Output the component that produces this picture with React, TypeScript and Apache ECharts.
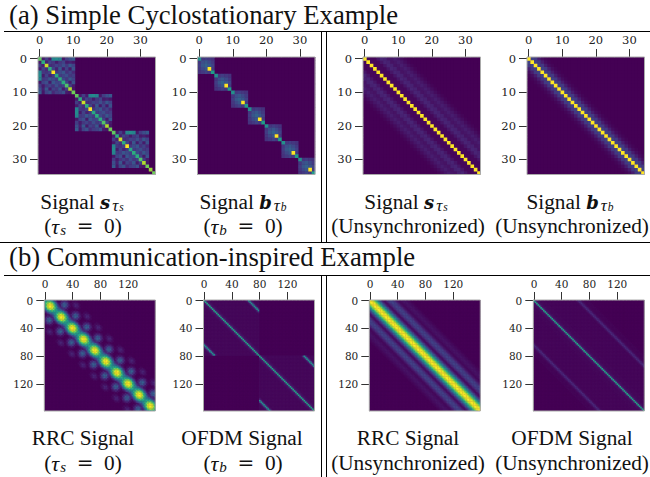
import React, { useEffect, useRef } from "react";
import * as echarts from "echarts";

const viridis = ["#440154", "#482878", "#3e4989", "#31688e", "#26828e", "#1f9e89", "#35b779", "#6ece58", "#b5de2b", "#fde725"];

// (a) values
const signalSBlock = [
  [.75, .07, .18, .07, .45, .48, .45, .06, .18, .24, .28],
  [.07, .62, .09, .20, .16, .07, .16, .20, .07, .09, .06],
  [.18, .09, .92, .13, .14, .20, .18, .24, .16, .27, .20],
  [.07, .20, .13, .62, .20, .09, .27, .07, .20, .07, .25],
  [.45, .16, .14, .20, 1.0, .16, .22, .27, .14, .20, .11],
  [.48, .07, .20, .09, .16, .60, .18, .20, .24, .16, .18],
  [.45, .16, .18, .27, .22, .18, .62, .22, .16, .27, .20],
  [.06, .20, .24, .07, .27, .20, .22, .62, .20, .07, .25],
  [.18, .07, .16, .20, .14, .24, .16, .20, .72, .18, .07],
  [.24, .09, .27, .07, .20, .16, .27, .07, .18, .88, .06],
  [.28, .06, .20, .25, .11, .18, .20, .25, .07, .06, .78],
];
const signalSTailDiagonal = [.85, .78];
const signalBBlock = [
  [.50, .16, .18, .16, .14],
  [.16, .24, .27, .22, .17],
  [.18, .27, .31, .27, .20],
  [.16, .22, .27, 1.0, .17],
  [.14, .17, .20, .17, .55],
];
const signalSLagProfile = [1, .02, .02, .02, .06, .1, .09, .05, .06, .08, .06, .03, .01];
const signalBLagProfile = [1, .2, .17, .08, .03, .01];

// (b) values, one cell = two samples
const rrcSyncByPhase = [
  [.54, .52, .46, .39, .30, .20, .11, .08, .13, .20, .25, .27, .25, .20, .13, .08, .04, 0, 0, 0, 0, 0, 0],
  [.62, .60, .54, .46, .36, .25, .14, .09, .15, .23, .29, .31, .29, .23, .15, .09, .04, .01, 0, 0, 0, 0, 0],
  [.80, .78, .72, .62, .50, .36, .22, .11, .10, .13, .17, .18, .17, .13, .09, .05, .02, 0, 0, 0, 0, 0, 0],
  [.95, .93, .88, .78, .64, .46, .28, .14, .06, .04, .05, .05, .05, .04, .03, .02, .01, .02, .02, .03, .02, .02, .01],
  [1.0, .98, .93, .84, .70, .52, .33, .17, .07, .02, .01, 0, 0, 0, 0, 0, .02, .04, .06, .07, .06, .04, .02],
  [.95, .93, .88, .78, .64, .46, .28, .14, .05, .01, 0, 0, 0, 0, 0, 0, .03, .06, .09, .10, .09, .06, .03],
  [.80, .78, .72, .62, .50, .36, .22, .11, .04, .02, .03, .03, .03, .02, .01, 0, .02, .04, .06, .07, .06, .04, .02],
  [.62, .60, .54, .46, .36, .25, .14, .06, .06, .09, .11, .12, .11, .09, .06, .03, .01, .01, .02, .03, .02, .01, 0],
];
const ofdmSyncLagProfile = [.58, .08, .05, .03, .02, .02, .02, .02, .02, .02, .02, .02, .02, .02, .02, .02, .02, .02, .02, .02, .02, .02, .02, .02, .02, .02, .02, .02, .02, .02, .03, .10, .50, .16, .04, .02, .02, .02, .02, .02];
const rrcUnsyncLagProfile = [1, .97, .9, .78, .64, .5, .36, .24, .13, .06, .03, .05, .1, .15, .19, .2, .19, .15, .1, .06, .03, .02, .03, .04, .05, .05, .04, .03, .02, .01];
const ofdmUnsyncLagProfile = [.58, .08, .04, .03, .02, .02, .02, .02, .015, .015, .015, .015, .015, .015, .015, .015, .015, .015, .015, .015, .015, .015, .015, .015, .015, .015, .015, .015, .015, .015, .02, .05, .11, .08, .03, .015, .01, .01, .01, .01];

const topTickLabels = ["0", "10", "20", "30"];
const bottomTickLabels = ["0", "40", "80", "120"];
const topCategories = Array.from({ length: 35 }, (_, i) => String(i));
const bottomCategories = Array.from({ length: 80 }, (_, i) => String(i * 2));

const lookup = (profile: number[], lag: number) => profile[lag] ?? 0;

const cell = {
  s: (r: number, c: number) => {
    const br = Math.floor(r / 11), bc = Math.floor(c / 11);
    if (br === 3 || bc === 3) return r === c ? signalSTailDiagonal[r - 33] : 0;
    return br === bc ? signalSBlock[r % 11][c % 11] : 0;
  },
  b: (r: number, c: number) => (Math.floor(r / 5) === Math.floor(c / 5) ? signalBBlock[r % 5][c % 5] : 0),
  su: (r: number, c: number) => lookup(signalSLagProfile, Math.abs(r - c)),
  bu: (r: number, c: number) => lookup(signalBLagProfile, Math.abs(r - c)),
  rrc: (r: number, c: number) => lookup(rrcSyncByPhase[((r + c + 1) >> 1) % 8], Math.abs(r - c)),
  ofdm: (r: number, c: number) => (Math.floor(r / 40) === Math.floor(c / 40) ? lookup(ofdmSyncLagProfile, Math.abs(r - c)) : 0),
  rrcu: (r: number, c: number) => lookup(rrcUnsyncLagProfile, Math.abs(r - c)),
  ofdmu: (r: number, c: number) => lookup(ofdmUnsyncLagProfile, Math.abs(r - c)),
};

const topY = 57, topSize = 117.5, botY = 300, botSize = 111;
const panels = [
  { x: 38, y: topY, size: topSize, n: 35, step: 10, fn: cell.s },
  { x: 197.5, y: topY, size: topSize, n: 35, step: 10, fn: cell.b },
  { x: 363, y: topY, size: topSize, n: 35, step: 10, fn: cell.su },
  { x: 527, y: topY, size: topSize, n: 35, step: 10, fn: cell.bu },
  { x: 44.3, y: botY, size: botSize, n: 80, step: 20, fn: cell.rrc },
  { x: 203.5, y: botY, size: botSize, n: 80, step: 20, fn: cell.ofdm },
  { x: 369.3, y: botY, size: botSize, n: 80, step: 20, fn: cell.rrcu },
  { x: 533.3, y: botY, size: botSize, n: 80, step: 20, fn: cell.ofdmu },
];

const serif = '"Liberation Serif", serif';
const capRich = {
  m: { fontFamily: serif, fontSize: 21.3, fill: "#111" },
  eq: { fontFamily: '"DejaVu Serif"', fontSize: 20, fill: "#111" },
  bi: { fontFamily: '"DejaVu Serif"', fontSize: 18, fontWeight: "bold", fontStyle: "italic", fill: "#111" },
  t: { fontFamily: serif, fontSize: 22, fontStyle: "italic", fill: "#111" },
  sub: { fontFamily: serif, fontSize: 15, fontStyle: "italic", fill: "#111", padding: [8, 0, 0, 1] },
  subt: { fontFamily: serif, fontSize: 17, fontStyle: "italic", fill: "#111", padding: [7, 1, 0, 2] },
  subsub: { fontFamily: serif, fontSize: 11.5, fontStyle: "italic", fill: "#111", padding: [10, 0, 0, 0] },
};
const tauEq = (sym: string) => `{m|(}{t|τ}{sub|${sym}}{m|  }{eq|=}{m|  0)}`;
const capS = "{m|Signal }{bi|s}{subt|τ}{subsub|s}";
const capB = "{m|Signal }{bi|b}{subt|τ}{subsub|b}";
const captions: [number, number, string][] = [
  [82, 202, capS], [83, 226, tauEq("s")],
  [243, 202, capB], [243, 226, tauEq("b")],
  [406, 202, capS], [408, 226, "{m|(Unsynchronized)}"],
  [570, 202, capB], [572, 226, "{m|(Unsynchronized)}"],
  [83, 438, "{m|RRC Signal}"], [83, 463, tauEq("s")],
  [242, 438, "{m|OFDM Signal}"], [243, 463, tauEq("b")],
  [408, 438, "{m|RRC Signal}"], [408, 463, "{m|(Unsynchronized)}"],
  [572, 438, "{m|OFDM Signal}"], [572, 463, "{m|(Unsynchronized)}"],
];
const titles: [number, number, string][] = [
  [9, 15, "(a) Simple Cyclostationary Example"],
  [9, 257, "(b) Communication-inspired Example"],
];
const rules: [number, number, number, number][] = [
  [4, 31.5, 650, 31.5], [0, 242.5, 650, 242.5], [4, 275.5, 650, 275.5],
  [321.5, 31, 321.5, 242], [326.5, 31, 326.5, 242],
  [321.5, 276, 321.5, 477], [326.5, 276, 326.5, 477],
];

const renderCell = (_: unknown, api: any) => {
  const [cx, cy] = api.coord([api.value(0), api.value(1)]);
  const [w, h] = api.size([1, 1]);
  return {
    type: "rect",
    shape: { x: cx - w / 2, y: cy - h / 2, width: w + 0.3, height: h + 0.3 },
    style: { fill: api.visual("color") },
  };
};

export default function App() {
  const ref = useRef<HTMLDivElement>(null);
  useEffect(() => {
    document.body.style.margin = "0";
    const chart = echarts.init(ref.current!, null, { renderer: "svg" });
    const axisCommon = (p: (typeof panels)[number], i: number) => ({
      gridIndex: i,
      type: "category" as const,
      data: p.n === 35 ? topCategories : bottomCategories,
      silent: true,
      axisLine: { show: true, lineStyle: { color: "#aaa", width: 1 } },
      axisTick: {
        show: true, alignWithLabel: true, length: 8,
        interval: (idx: number) => idx % p.step === 0,
        lineStyle: { color: "#333", width: 1 },
      },
      axisLabel: {
        show: true, interval: (idx: number) => idx % p.step === 0,
        margin: 11, color: "#222", fontFamily: '"DejaVu Serif"', fontSize: p.n === 35 ? 11.5 : 10.5,
        hideOverlap: false,
        formatter: (v: string) => ([...topTickLabels, ...bottomTickLabels].includes(v) ? v : ""),
      },
      splitLine: { show: false },
      splitArea: { show: false },
    });
    chart.setOption({
      animation: false,
      tooltip: { show: false },
      grid: panels.map((p) => ({
        show: true, backgroundColor: viridis[0], borderWidth: 0,
        left: p.x, top: p.y, width: p.size, height: p.size, containLabel: false,
      })),
      xAxis: panels.map((p, i) => ({ ...axisCommon(p, i), position: "top" })),
      yAxis: panels.map((p, i) => ({ ...axisCommon(p, i), inverse: true, position: "left" })),
      visualMap: {
        show: false, min: 0, max: 1, type: "continuous", dimension: 2,
        seriesIndex: panels.map((_, i) => i),
        inRange: { color: viridis },
      },
      series: panels.map((p, i) => {
        const data: [number, number, number][] = [];
        for (let r = 0; r < p.n; r++) for (let c = 0; c < p.n; c++) data.push([c, r, p.fn(r, c)]);
        data.sort((a, b) => a[2] - b[2]);
        return {
          type: "custom", xAxisIndex: i, yAxisIndex: i, data, silent: true, progressive: 0,
          renderItem: renderCell, encode: { x: 0, y: 1 }, clip: true,
        };
      }),
      graphic: [
        ...panels.map((p) => ({
          type: "rect", z: 20, silent: true,
          shape: { x: p.x, y: p.y, width: p.size, height: p.size },
          style: { fill: "none", stroke: "#aaa", lineWidth: 1 },
        })),
        ...rules.map(([x1, y1, x2, y2]) => ({
          type: "line", z: 20, silent: true,
          shape: { x1, y1, x2, y2 },
          style: { stroke: "#000", lineWidth: 1 },
        })),
        ...titles.map(([x, y, text]) => ({
          type: "text", z: 20, silent: true, x, y,
          style: { text, fontFamily: serif, fontSize: 26.7, fill: "#111", textAlign: "left", textVerticalAlign: "middle" },
        })),
        ...captions.map(([x, y, text]) => ({
          type: "text", z: 20, silent: true, x, y,
          style: { text, rich: capRich, textAlign: "center", textVerticalAlign: "middle" },
        })),
      ],
    });
    return () => chart.dispose();
  }, []);
  return <div ref={ref} style={{ width: 650, height: 477, position: "absolute", left: 0, top: 0, background: "#fff" }} />;
}
